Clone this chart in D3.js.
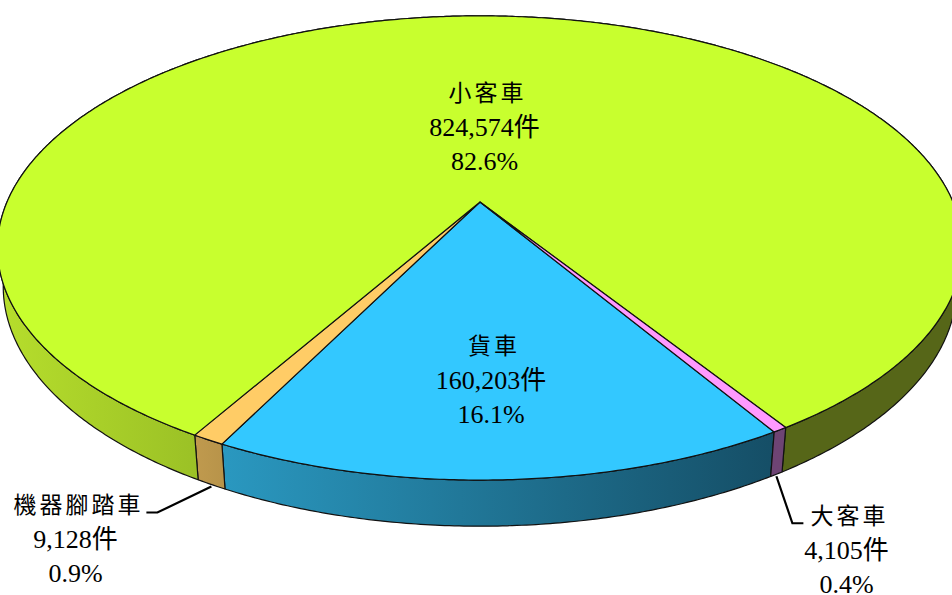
<!DOCTYPE html>
<html>
<head>
<meta charset="utf-8">
<script src="https://cdn.jsdelivr.net/npm/d3@7"></script>
<style>
  html, body { margin: 0; padding: 0; background: #fff; }
  svg { display: block; }
  text { font-family: "Liberation Serif", "Noto Sans CJK TC", serif; font-size: 26px; fill: #000; text-anchor: middle; }
  .name { font-size: 23px; letter-spacing: 3px; }
</style>
</head>
<body>
<div id="chart"></div>
<script>
// data
var names = ["貨車", "機器腳踏車", "小客車", "大客車"];
var counts = [160203, 9128, 824574, 4105];
var percents = ["16.1%", "0.9%", "82.6%", "0.4%"];

// colours, same order as the data
var topColors = ["#33c8ff", "#ffcc66", "#c8ff2e", "#ff99ff"];
var sideStops = [
  ["#2a98c0", "#154e66"],
  ["#c09a4e", "#b8944a"],
  ["#b6de2c", "#566618"],
  ["#6e4474", "#6e4474"]
];

var w = 952, h = 595;
var cx = 480, cy = 202;          // where the slices meet
var A = 473, B = 223, k = 0.198; // perspective of the disk
var depth = 37;                  // thickness of the pie
var start = 148.9 * Math.PI / 180;

// label places
var labelX = [491, 75.5, 484.5, 846.5];
var labelY = [354, 513, 101, 524];
var lineGap = 34.5;

var svg = d3.select("#chart").append("svg")
  .attr("width", w)
  .attr("height", h);

var pie = d3.pie()
  .sort(null)
  .startAngle(start)
  .endAngle(start + 2 * Math.PI);
var arcs = pie(counts);

// disk point to screen, lower = 1 gives the bottom rim
function project(a, r, lower) {
  var x = Math.sin(a) * r;
  var y = -Math.cos(a) * r;
  var d = 1 - k * y;
  return [
    cx + (lower ? 0.988 : 1) * A * x / d,
    cy + (B * y + (lower ? depth : 0)) / d
  ];
}

function samples(a0, a1) {
  var n = Math.max(2, Math.ceil((a1 - a0) * 120));
  return d3.range(n + 1).map(function(i) {
    return a0 + (a1 - a0) * i / n;
  });
}

var line = d3.line();

// gradients for the sides
var defs = svg.append("defs");
arcs.forEach(function(d, i) {
  var g = defs.append("linearGradient")
    .attr("id", "side" + i)
    .attr("gradientUnits", "userSpaceOnUse")
    .attr("x1", i === 2 ? 0 : project(d.endAngle, 1)[0])
    .attr("x2", i === 2 ? w : project(d.startAngle, 1)[0])
    .attr("y1", 0)
    .attr("y2", 0);
  g.append("stop").attr("offset", 0).attr("stop-color", sideStops[i][0]);
  if (i === 2) {
    g.append("stop").attr("offset", 0.2).attr("stop-color", "#9cc226");
    g.append("stop").attr("offset", 0.82).attr("stop-color", "#566618");
  }
  g.append("stop").attr("offset", 1).attr("stop-color", sideStops[i][1]);
});

// sides first, the top covers whatever is at the back
svg.selectAll("path.side")
  .data(arcs)
  .enter()
  .append("path")
  .attr("class", "side")
  .attr("fill", function(d, i) { return "url(#side" + i + ")"; })
  .attr("stroke", "#111")
  .attr("stroke-width", 1.2)
  .attr("stroke-linejoin", "round")
  .attr("d", function(d) {
    var as = samples(d.startAngle, d.endAngle);
    var upper = as.map(function(a) { return project(a, 1, false); });
    var lower = as.slice().reverse().map(function(a) { return project(a, 1, true); });
    return line(upper.concat(lower)) + "Z";
  });

// top of the slices
svg.selectAll("path.slice")
  .data(arcs)
  .enter()
  .append("path")
  .attr("class", "slice")
  .attr("fill", function(d, i) { return topColors[i]; })
  .attr("stroke", "#111")
  .attr("stroke-width", 1.2)
  .attr("stroke-linejoin", "round")
  .attr("d", function(d) {
    var pts = samples(d.startAngle, d.endAngle).map(function(a) { return project(a, 1, false); });
    return line([[cx, cy]].concat(pts)) + "Z";
  });

// leader lines for the two thin slices
function leader(i, dx1, dy1, dx2) {
  var mid = (arcs[i].startAngle + arcs[i].endAngle) / 2;
  var p = project(mid, 1, true);
  var q = [p[0] + dx1, p[1] + dy1];
  svg.append("path")
    .attr("fill", "none")
    .attr("stroke", "#000")
    .attr("stroke-width", 2.2)
    .attr("d", line([[p[0], p[1] + 2], q, [q[0] + dx2, q[1]]]));
}
leader(1, -54, 28, -11);
leader(3, 16, 49, 11);

// labels
names.forEach(function(name, i) {
  var t = svg.append("text").attr("x", labelX[i]).attr("y", labelY[i]);
  t.append("tspan").attr("class", "name").attr("x", labelX[i] + 3).text(name);
  t.append("tspan").attr("x", labelX[i]).attr("dy", lineGap).text(d3.format(",")(counts[i]) + "件");
  t.append("tspan").attr("x", labelX[i]).attr("dy", lineGap).text(percents[i]);
});
</script>
</body>
</html>
